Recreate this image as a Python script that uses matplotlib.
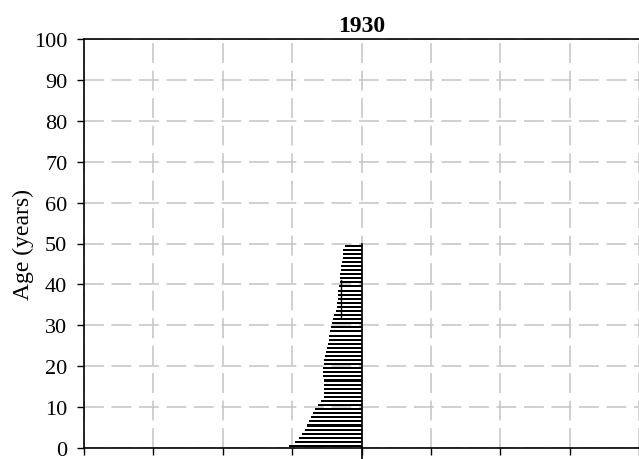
import numpy as np
import matplotlib
matplotlib.use("Agg")
import matplotlib.pyplot as plt

# population by single year of age, 1930 (length of bar to the left of zero)
ages = list(range(0, 50))
pop = [1.04, 0.965, 0.90, 0.86, 0.82, 0.78, 0.75, 0.725, 0.70, 0.67,
       0.625, 0.58, 0.545, 0.535, 0.535, 0.535, 0.545, 0.56, 0.56, 0.56,
       0.545, 0.535, 0.52, 0.51, 0.50, 0.485, 0.475, 0.465, 0.455, 0.44,
       0.43, 0.415, 0.39, 0.365, 0.355, 0.35, 0.34, 0.335, 0.335, 0.325,
       0.315, 0.305, 0.305, 0.30, 0.29, 0.28, 0.27, 0.27, 0.27, 0.245]
# short marker line drawn over the bars
mark_x = -0.295
mark_ages = [32, 41]

plt.rcParams['font.family'] = ['Liberation Serif', 'DejaVu Serif']

fig = plt.figure(figsize=(6.39, 4.6), dpi=100)
ax = fig.add_axes([84 / 639, 11 / 460, 555 / 639, 409 / 460])

y = np.array(ages) + 0.5
ax.barh(y, -np.array(pop), height=0.5, left=0, color='black', zorder=3)

ax.plot([mark_x, mark_x], mark_ages, color='black', lw=1, zorder=4)
ax.plot([0, 0], [-2.7, 50], color='black', lw=1.2, zorder=4, clip_on=False)

ax.set_xlim(-4, 4)
ax.set_ylim(0, 100)
ax.set_xticks(range(-4, 5))
ax.set_xticklabels([])
ax.set_yticks(range(0, 101, 10))
ax.tick_params(axis='both', direction='out', length=5, width=1, labelsize=16, pad=7)
ax.tick_params(axis='x', pad=2)

ax.grid(True, color='#c4c4c4', linestyle=(0, (13, 5)), lw=1.1, zorder=0)
ax.set_axisbelow(True)

ax.spines['right'].set_visible(False)
for s in ['left', 'bottom', 'top']:
    ax.spines[s].set_linewidth(1.2)

ax.set_ylabel('Age (years)', fontsize=17, labelpad=0)
ax.set_title('1930', fontsize=17, fontweight='bold', pad=6)

fig.savefig('out.png', dpi=100)
